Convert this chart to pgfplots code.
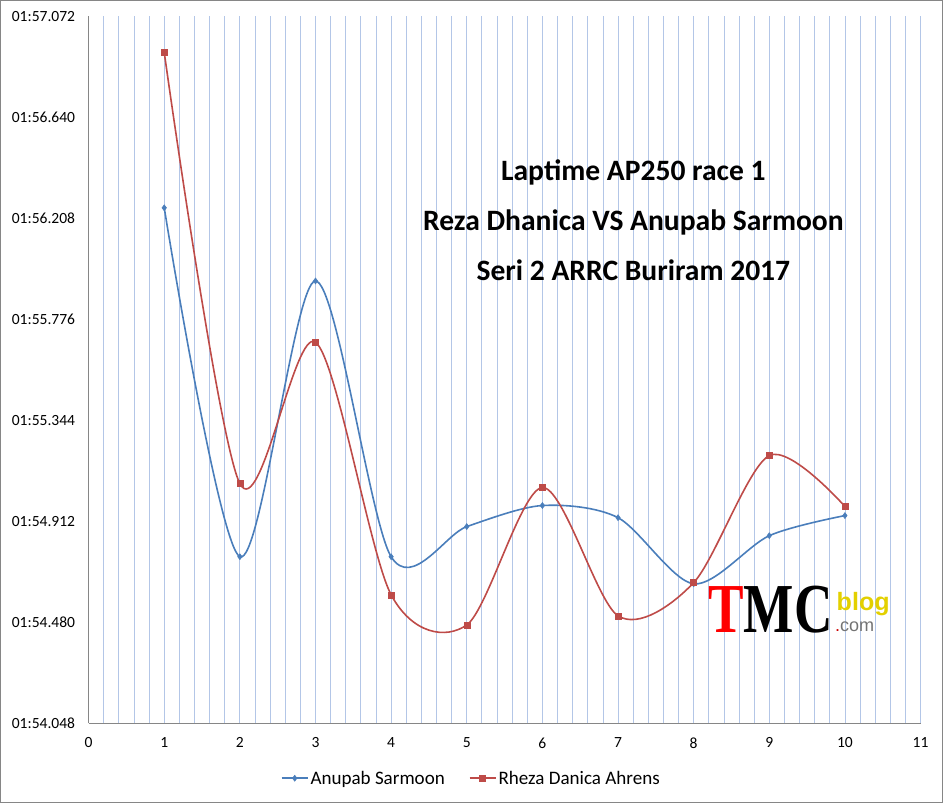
\documentclass[border=0pt]{standalone}
\usepackage{fontspec}
\setmainfont{Carlito}
\newfontfamily\logoserif{Liberation Serif}
\newfontfamily\logosans{Liberation Sans}
\usepackage{pgfplots}
\pgfplotsset{compat=1.18}
\definecolor{serA}{HTML}{4A7EBB}
\definecolor{serB}{HTML}{BE4B48}
\definecolor{gridc}{HTML}{B3C6E7}
\definecolor{axc}{HTML}{868686}
\definecolor{logoy}{HTML}{E3D000}
\begin{document}
\begin{tikzpicture}
\begin{axis}[
  scale only axis,
  width=830pt, height=705pt,
  xmin=0, xmax=11, ymin=54.048, ymax=57.072,
  xtick={0,1,...,11},
  minor x tick num=4,
  xmajorgrids, xminorgrids,
  major grid style={gridc, line width=0.8pt},
  minor grid style={gridc, line width=0.8pt},
  ytick={54.048,54.480,54.912,55.344,55.776,56.208,56.640,57.072},
  yticklabels={01:54.048,01:54.480,01:54.912,01:55.344,01:55.776,01:56.208,01:56.640,01:57.072},
  axis x line*=bottom, axis y line*=left,
  axis line style={axc, line width=0.8pt},
  major tick length=0pt, minor tick length=0pt,
  tick label style={font=\fontsize{15.5}{18}\selectfont, black},
  /pgf/number format/assume math mode=true,
  xticklabel style={yshift=-11pt},
  yticklabel style={xshift=-10pt},
  legend style={at={(axis description cs:0.460,-0.078)}, anchor=center, draw=none,
    font=\fontsize{19}{22}\selectfont, legend columns=2,
    /tikz/every even column/.append style={column sep=22pt}},
  legend image code/.code={\draw[#1, mark repeat=2, mark phase=2] plot coordinates {(0pt,0pt) (13pt,0pt) (26pt,0pt)};},
]
\addplot[serA, line width=1.6pt, smooth, tension=0.5, mark=diamond*, mark size=3pt, mark options={solid, fill=serA, line width=0.5pt}]
 coordinates {(1,56.253)(2,54.760)(3,55.940)(4,54.760)(5,54.889)(6,54.979)(7,54.927)(8,54.644)(9,54.850)(10,54.936)};
\addlegendentry{Anupab Sarmoon}
\addplot[serB, line width=1.6pt, smooth, tension=0.5, mark=square*, mark size=3pt, mark options={solid, fill=serB, line width=0.5pt}]
 coordinates {(1,56.918)(2,55.073)(3,55.678)(4,54.597)(5,54.468)(6,55.056)(7,54.507)(8,54.649)(9,55.193)(10,54.975)};
\addlegendentry{Rheza Danica Ahrens}
\node[align=center, font=\fontsize{29.5}{50}\selectfont\bfseries, anchor=center] at (rel axis cs:0.6548,0.712)
  {Laptime AP250 race 1\\Reza Dhanica VS Anupab Sarmoon\\Seri 2 ARRC Buriram 2017};
\node[anchor=base west, inner sep=0pt, xscale=0.76, font=\fontsize{70}{70}\selectfont\logoserif\bfseries] at (rel axis cs:0.7446,0.1277)
  {\textcolor{red}{T}MC};
\node[anchor=base west, inner sep=0pt, font=\fontsize{25}{25}\selectfont\logosans\bfseries, text=logoy] at (rel axis cs:0.899,0.159) {blog};
\node[anchor=base west, inner sep=0pt, font=\fontsize{18}{18}\selectfont\logosans, text=black!55] at (rel axis cs:0.897,0.1291) {\textcolor{red!80!black}{.}com};
\end{axis}
\draw[axc, line width=0.8pt] ([shift={(-88pt,-79pt)}]current axis.south west) rectangle ([shift={(22pt,16pt)}]current axis.north east);
\end{tikzpicture}
\end{document}
